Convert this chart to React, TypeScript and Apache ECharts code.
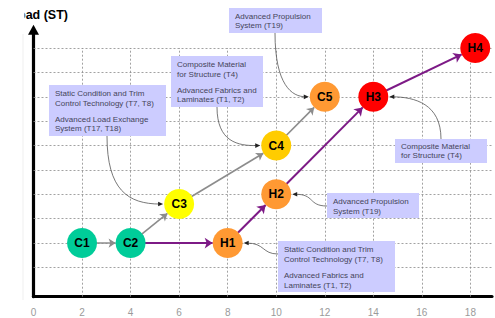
import React, { useEffect, useRef } from "react";
import * as echarts from "echarts";

// ---------- data ----------
const xTicks = [0, 2, 4, 6, 8, 10, 12, 14, 16, 18];
const xGridLevels = [2, 4, 6, 8, 10, 12, 14, 16, 18];
const yGridLevels = [1, 2, 3, 4, 5, 6, 7, 8, 9, 10];

const nodeNames = ["C1", "C2", "C3", "C4", "C5", "H1", "H2", "H3", "H4"];
const nodeX = [2, 4, 6, 10, 12, 8, 10, 14, 18.2];
const nodeY = [2, 2, 3.6, 6, 8, 2, 4, 8, 10];

const conventionalPath = [["C1", "C2"], ["C2", "C3"], ["C3", "C4"], ["C4", "C5"]];
const hybridPath = [["C2", "H1"], ["H1", "H2"], ["H2", "H3"], ["H3", "H4"]];

const annotationTexts = [
  ["Static Condition and Trim", "Control Technology (T7, T8)", "Advanced Load Exchange", "System (T17, T18)"],
  ["Composite Material", "for Structure (T4)", "Advanced Fabrics and", "Laminates (T1, T2)"],
  ["Advanced Propulsion", "System (T19)"],
  ["Composite Material", "for Structure (T4)"],
  ["Advanced Propulsion", "System (T19)"],
  ["Static Condition and Trim", "Control Technology (T7, T8)", "Advanced Fabrics and", "Laminates (T1, T2)"],
];
const annotationTargets = ["C3", "C4", "C5", "H3", "H2", "H1"];

const yAxisTitle = "Load (ST)";

// ---------- styles / layout ----------
const X_MIN = 0;
const X_MAX = 18.89;
const Y_MIN = -0.2;
const Y_MAX = 10.75;
const FONT = "Liberation Sans, Arial, sans-serif";

const NODE_COLORS: Record<string, string> = {
  C1: "#00cc99",
  C2: "#00cc99",
  C3: "#ffff00",
  C4: "#ffcc00",
  C5: "#ff9933",
  H1: "#ff9933",
  H2: "#ff9933",
  H3: "#ff0000",
  H4: "#ff0000",
};

// pixel layout of callout boxes; side: -1 connector ends at node's left, +1 at right
const BOX_LAYOUT = [
  { x: 49, y: 85, w: 117, h: 51, lineY: [8, 18, 34, 43], start: [107, 136], c1: [107, 190], c2: [128, 204], side: -1 },
  { x: 171, y: 56, w: 92, h: 51, lineY: [8, 18, 34, 43], start: [217, 107], c1: [217, 142], c2: [238, 146], side: -1 },
  { x: 229, y: 8, w: 93, h: 25, lineY: [8, 17.5], start: [275, 33], c1: [275, 85], c2: [292, 97], side: -1 },
  { x: 395, y: 139, w: 92, h: 24, lineY: [7.5, 16.5], start: [441, 139], c1: [441, 104], c2: [415, 97], side: 1 },
  { x: 327, y: 193, w: 92, h: 25, lineY: [8.5, 18.5], start: [327, 206], c1: [308, 206], c2: [315, 194], side: 1 },
  { x: 278, y: 241, w: 117, h: 51, lineY: [8.5, 18.5, 34, 44], start: [278, 254], c1: [262, 254], c2: [265, 243], side: 1 },
];

export default function App() {
  const ref = useRef<HTMLDivElement>(null);

  useEffect(() => {
    if (!ref.current) return;
    const chart = echarts.init(ref.current, null, { renderer: "svg" });

    const nodes = nodeNames.map((n, i) => ({
      name: n,
      value: [nodeX[i], nodeY[i]],
      itemStyle: { color: NODE_COLORS[n] },
    }));
    const links = [
      ...conventionalPath.map(([s, t]) => ({
        source: s,
        target: t,
        symbolSize: [0, 7],
        lineStyle: { color: "#8c8c8c", width: 1.6, opacity: 1 },
      })),
      ...hybridPath.map(([s, t]) => ({
        source: s,
        target: t,
        symbolSize: [0, 8],
        lineStyle: { color: "#7d1a86", width: 2, opacity: 1 },
      })),
    ];

    chart.setOption({
      animation: false,
      grid: { left: 33.5, right: 0, top: 29.7, bottom: 21.3, containLabel: false },
      xAxis: {
        type: "value",
        min: X_MIN,
        max: X_MAX,
        interval: 2,
        axisLine: { show: true, onZero: false, lineStyle: { color: "#000", width: 3.2 } },
        axisTick: { show: false },
        splitLine: { show: false },
        axisLabel: {
          color: "#9a9a9a",
          fontSize: 10,
          fontFamily: FONT,
          margin: 11,
          formatter: (v: number) => (xTicks.includes(v) ? String(v) : ""),
        },
      },
      yAxis: {
        type: "value",
        min: Y_MIN,
        max: Y_MAX,
        axisLine: {
          show: true,
          onZero: false,
          symbol: ["none", "triangle"],
          symbolSize: [11, 10],
          lineStyle: { color: "#000", width: 3.2 },
        },
        axisTick: { show: false },
        axisLabel: { show: false },
        splitLine: { show: false },
      },
      series: [
        {
          type: "line",
          data: [],
          silent: true,
          markLine: {
            silent: true,
            symbol: ["none", "none"],
            label: { show: false },
            lineStyle: { color: "#8a8a8a", width: 0.8, type: [2, 2] },
            emphasis: { disabled: true },
            data: [
              ...yGridLevels.map((v) => [{ coord: [X_MIN, v] }, { coord: [X_MAX, v] }]),
              ...xGridLevels.map((v) => [{ coord: [v, Y_MIN] }, { coord: [v, yGridLevels[yGridLevels.length - 1]] }]),
            ],
          },
        },
        {
          type: "graph",
          coordinateSystem: "cartesian2d",
          z: 20,
          symbol: "circle",
          symbolSize: 30,
          edgeSymbol: ["none", "arrow"],
          edgeSymbolSize: [0, 7],
          emphasis: { disabled: true },
          label: {
            show: true,
            position: "inside",
            color: "#000",
            fontWeight: "bold",
            fontSize: 12,
            fontFamily: FONT,
          },
          data: nodes,
          links,
        },
      ],
    });

    // callouts
    const graphic: any[] = [];
    const idx = (n: string) => nodeNames.indexOf(n);
    BOX_LAYOUT.forEach((b, k) => {
      graphic.push({
        type: "rect",
        z: 10,
        shape: { x: b.x, y: b.y, width: b.w, height: b.h },
        style: { fill: "#ccccff" },
      });
      annotationTexts[k].forEach((t, j) => {
        graphic.push({
          type: "text",
          z: 11,
          x: b.x + 6,
          y: b.y + b.lineY[j],
          style: {
            text: t,
            fill: "#44445a",
            font: `8px ${FONT}`,
            textVerticalAlign: "middle",
            verticalAlign: "middle",
          },
        });
      });
      const i = idx(annotationTargets[k]);
      const p = chart.convertToPixel({ gridIndex: 0 }, [nodeX[i], nodeY[i]]) as number[];
      const end = [p[0] + b.side * 16, p[1]];
      graphic.push({
        type: "bezierCurve",
        z: 12,
        shape: {
          x1: b.start[0],
          y1: b.start[1],
          cpx1: b.c1[0],
          cpy1: b.c1[1],
          cpx2: b.c2[0],
          cpy2: b.c2[1],
          x2: end[0] - b.side * -3,
          y2: end[1],
        },
        style: { stroke: "#555", lineWidth: 0.8, fill: "none" },
      });
      let dx = end[0] - b.c2[0];
      let dy = end[1] - b.c2[1];
      const L = Math.hypot(dx, dy) || 1;
      dx /= L;
      dy /= L;
      const len = 5;
      const hw = 2.3;
      const bx = end[0] - dx * len;
      const by = end[1] - dy * len;
      graphic.push({
        type: "polygon",
        z: 12,
        shape: {
          points: [
            [end[0], end[1]],
            [bx - dy * hw, by + dx * hw],
            [bx + dy * hw, by - dx * hw],
          ],
        },
        style: { fill: "#222" },
      });
    });

    // y axis title (clipped at left)
    graphic.push({
      type: "text",
      z: 30,
      x: 68,
      y: 15,
      style: {
        text: yAxisTitle,
        fill: "#000",
        font: `bold 12.5px ${FONT}`,
        textAlign: "right",
        align: "right",
        textVerticalAlign: "middle",
        verticalAlign: "middle",
      },
    });
    graphic.push({
      type: "rect",
      z: 31,
      shape: { x: 0, y: 0, width: 24.5, height: 30 },
      style: { fill: "#fff" },
    });
    graphic.push({
      type: "line",
      z: 1,
      shape: { x1: 23, y1: 34, x2: 23, y2: 300 },
      style: { stroke: "#efefef", lineWidth: 1 },
    });

    chart.setOption({ graphic });

    return () => chart.dispose();
  }, []);

  return (
    <div
      ref={ref}
      style={{ position: "fixed", left: 0, top: 0, width: 495, height: 318, background: "#fff" }}
    />
  );
}
